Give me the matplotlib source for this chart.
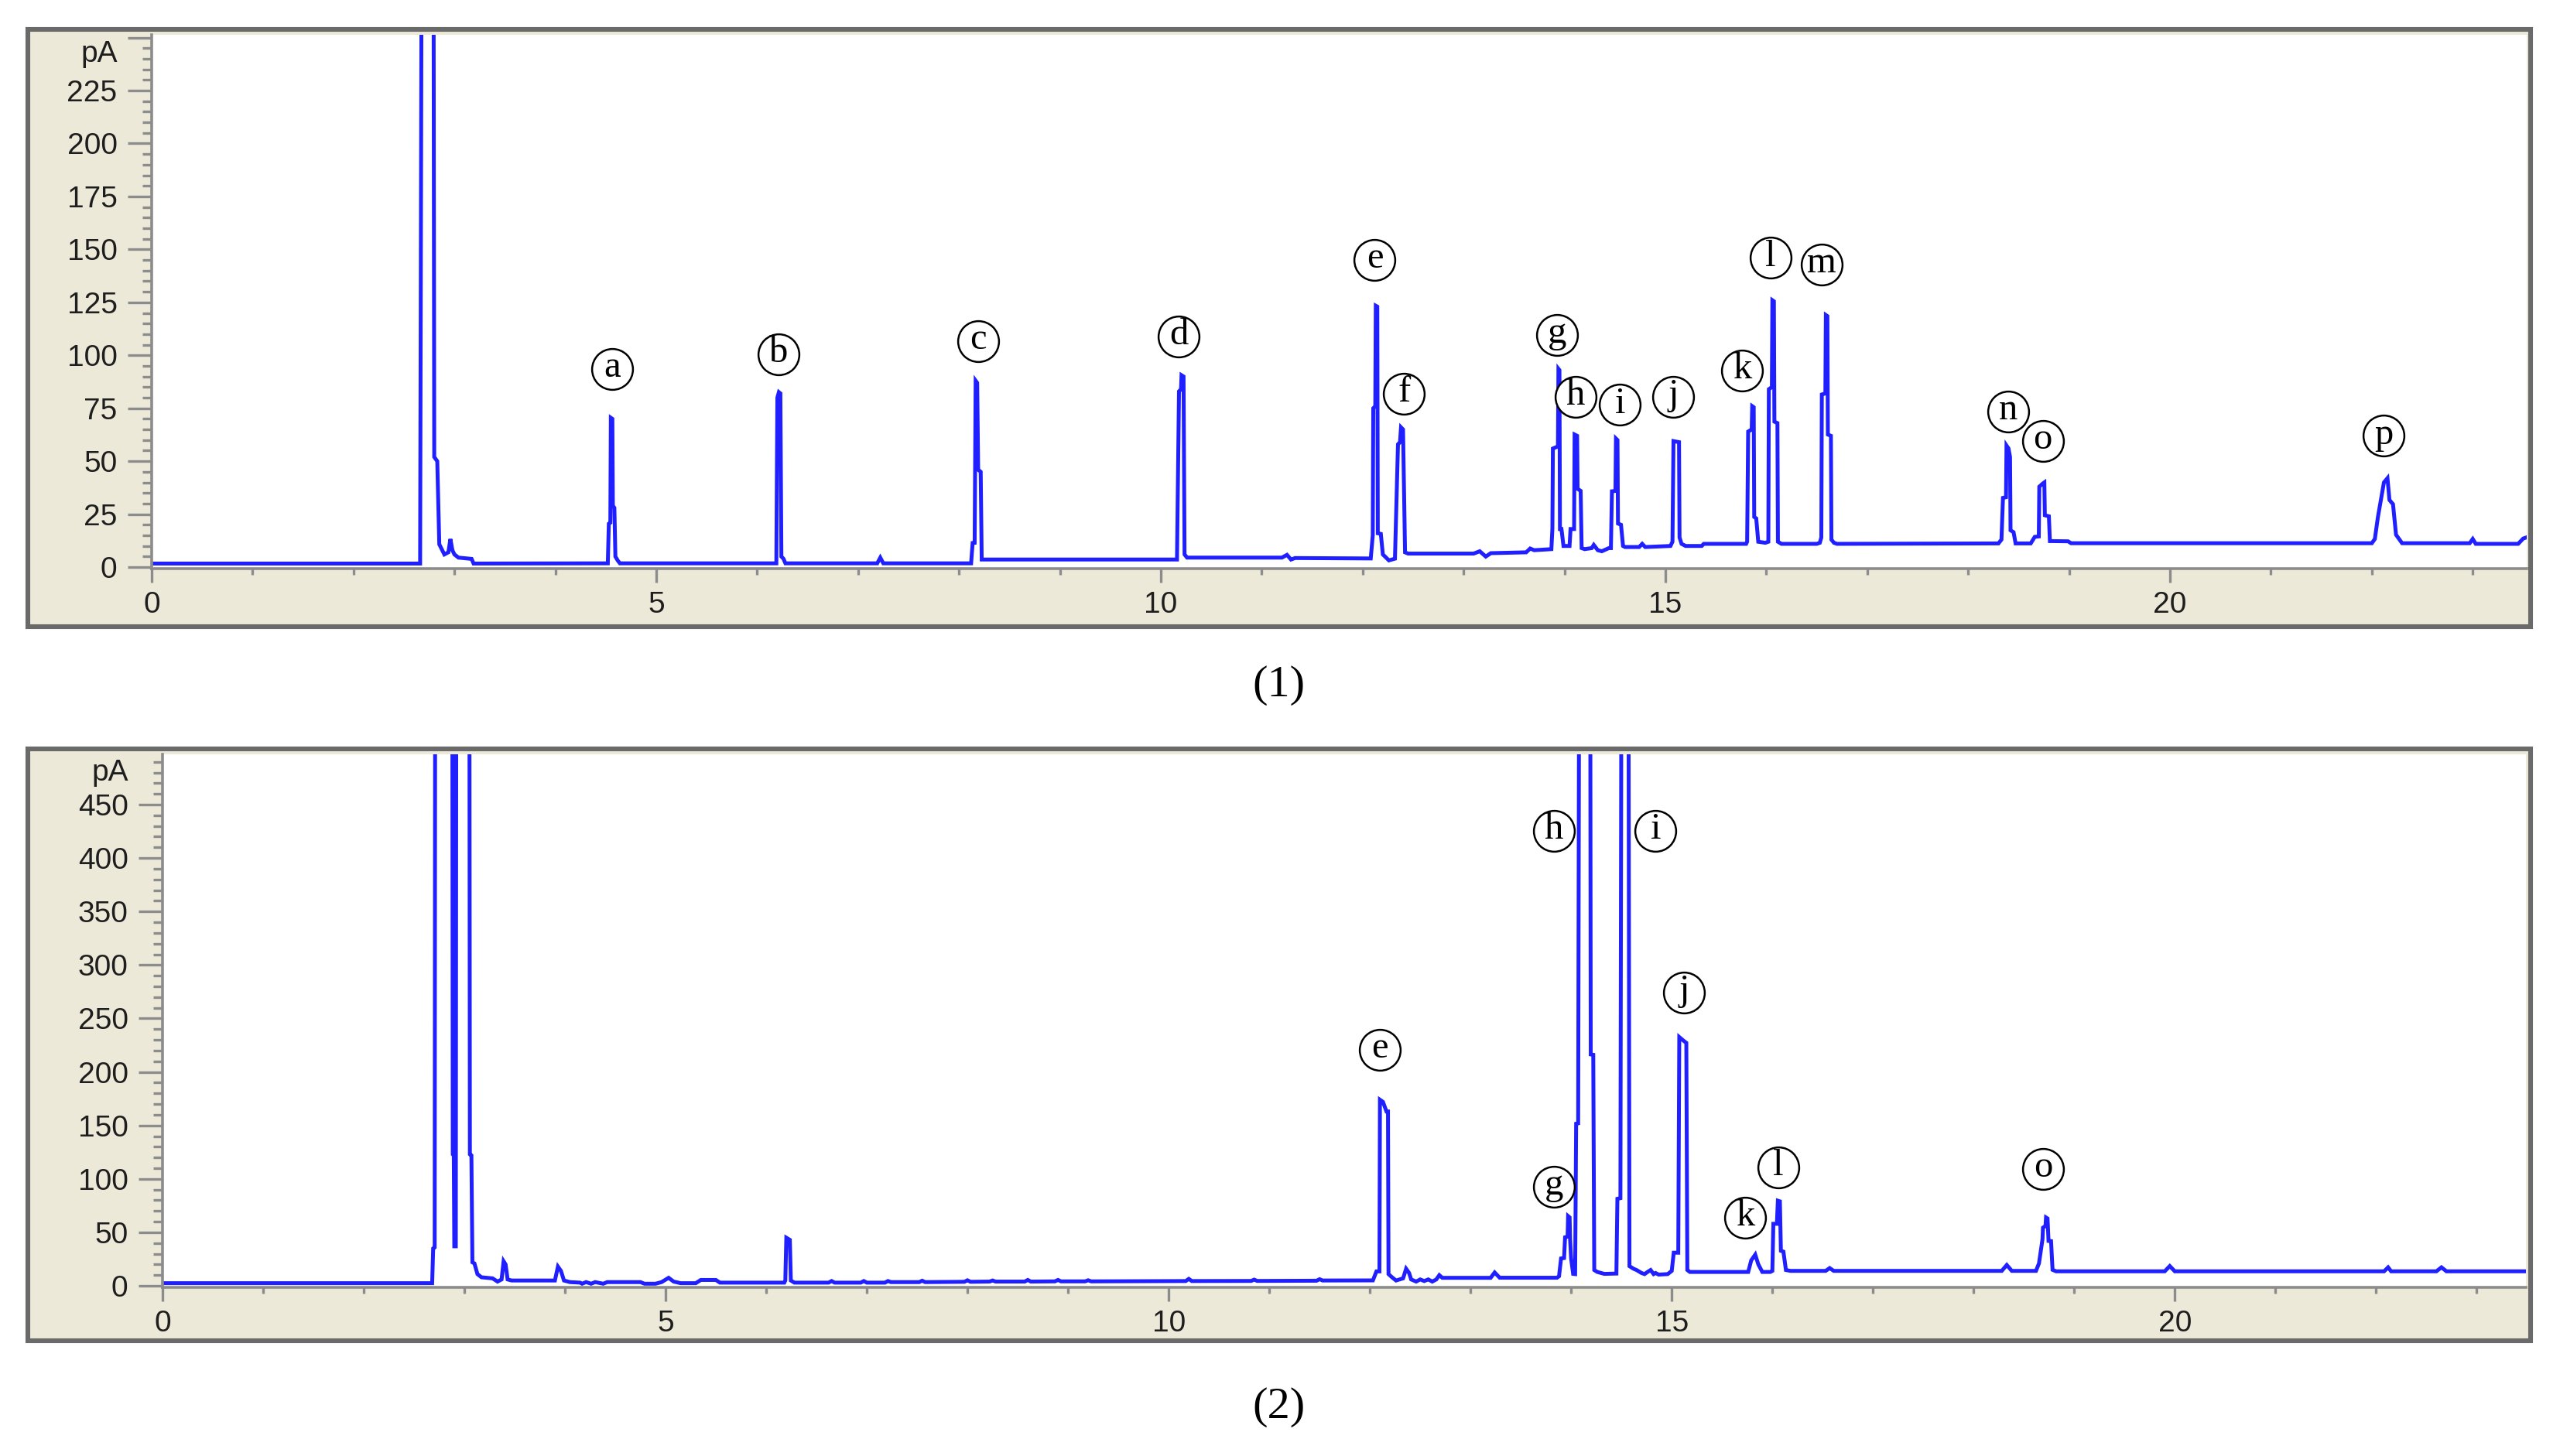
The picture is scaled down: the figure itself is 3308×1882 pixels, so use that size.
import matplotlib.pyplot as plt
from matplotlib.patches import Rectangle
from matplotlib.ticker import MultipleLocator

# chromatogram (1): retention time (min) / signal (pA), vertices
t1 = [0.00, 2.66, 2.68, 2.79, 2.80, 2.83, 2.85, 2.90, 2.94, 2.96, 2.98, 3.00, 3.04, 3.17, 3.19,
      4.52, 4.53, 4.545, 4.55, 4.565, 4.57, 4.585, 4.595, 4.62, 4.64,
      6.19, 6.20, 6.215, 6.23, 6.24, 6.26, 6.28, 7.19, 7.22, 7.25,
      8.12, 8.135, 8.155, 8.165, 8.18, 8.19, 8.215, 8.225,
      10.16, 10.18, 10.20, 10.205, 10.225, 10.235, 10.26, 11.20, 11.25, 11.29, 11.33,
      12.08, 12.10, 12.105, 12.125, 12.13, 12.145, 12.15, 12.18, 12.20, 12.26, 12.32,
      12.35, 12.37, 12.38, 12.40, 12.42, 12.45, 13.10, 13.16, 13.22, 13.27, 13.62, 13.66, 13.70,
      13.87, 13.88, 13.885, 13.935, 13.94, 13.95, 13.955, 13.97, 13.99, 14.05, 14.06, 14.095,
      14.10, 14.125, 14.13, 14.16, 14.17, 14.20, 14.27, 14.29, 14.33, 14.37, 14.44,
      14.46, 14.47, 14.505, 14.51, 14.525, 14.53, 14.56, 14.58, 14.60, 14.74, 14.77, 14.80,
      15.05, 15.07, 15.08, 15.135, 15.14, 15.16, 15.20, 15.36, 15.38, 15.80,
      15.81, 15.82, 15.855, 15.86, 15.875, 15.88, 15.90, 15.92, 15.99,
      16.02, 16.025, 16.055, 16.06, 16.075, 16.08, 16.11, 16.115, 16.15, 16.50,
      16.53, 16.545, 16.55, 16.585, 16.59, 16.605, 16.61, 16.64, 16.645, 16.67, 16.70,
      18.30, 18.33, 18.345, 18.375, 18.38, 18.40, 18.415, 18.42, 18.45, 18.47,
      18.62, 18.66, 18.70, 18.705, 18.74, 18.755, 18.76, 18.80, 18.81, 18.99, 19.02,
      22.00, 22.03, 22.06, 22.09, 22.12, 22.155, 22.175, 22.21, 22.24, 22.30,
      22.97, 23.00, 23.03, 23.45, 23.50, 23.53]
pa1 = [1.7, 1.7, 400, 400, 52, 50, 10.8, 6, 7, 13.3, 8, 6, 4.5, 3.9, 1.7,
       1.8, 20.5, 21, 70.5, 70, 29, 28, 5, 3, 1.8,
       1.8, 80, 82.6, 82, 5, 4, 1.8, 1.8, 4.5, 1.8,
       1.8, 11.4, 11.5, 88, 87, 46, 45, 3.6,
       3.6, 83, 84, 90.6, 90, 6, 4.5, 4.5, 5.8, 3.6, 4.3,
       4.1, 15, 75, 76, 123.4, 123, 16, 15.7, 6, 3.2, 4,
       58, 59, 66, 65, 7, 6.4, 6.4, 7.5, 5, 6.6, 7, 8.8, 8,
       8.5, 18, 56, 57, 93.6, 93, 18, 18, 10, 10, 18, 18,
       62.6, 62, 37, 36, 9, 8.5, 9, 10.5, 8, 7.5, 9,
       9, 35.8, 36, 60.7, 60, 20.6, 20, 10, 9.5, 9.5, 11, 9.5,
       10, 12, 59.5, 59, 14, 11, 10, 10, 11, 11,
       12, 64, 65, 76, 75.5, 23.7, 23, 12, 11.5,
       12, 84, 85, 126, 125.5, 68.7, 68, 12, 11, 11,
       11.5, 14, 81.5, 82, 119, 118.5, 62.6, 62, 13, 11.5, 11,
       11.2, 13, 32.7, 33, 57.4, 56, 52, 17.4, 16.5, 11.2,
       11.2, 14.3, 14.5, 38, 39.5, 40, 24.5, 24, 12.3, 12.2, 11.3,
       11.3, 13.3, 23.5, 31.7, 40, 42, 31.7, 29.7, 15.3, 11.3,
       11.3, 13.3, 11.0, 11.0, 13.5, 14]

# chromatogram (2)
t2 = [0.00, 2.68, 2.69, 2.705, 2.71, 2.88, 2.885, 2.895, 2.90, 2.915, 2.92, 3.05, 3.055, 3.07,
      3.08, 3.10, 3.13, 3.17, 3.28, 3.33, 3.37, 3.39, 3.41, 3.43, 3.47, 3.90, 3.93, 3.96, 3.99,
      4.05, 4.15, 4.17, 4.21, 4.26, 4.30, 4.38, 4.42, 4.75, 4.79, 4.90, 4.96, 5.03, 5.08, 5.15,
      5.30, 5.35, 5.50, 5.54, 6.18, 6.19, 6.20, 6.235, 6.245, 6.28, 6.62, 6.65, 6.68, 6.94,
      6.97, 7.00, 7.18, 7.21, 7.24, 7.52, 7.55, 7.58, 7.97, 8.00, 8.03, 8.22, 8.25, 8.28,
      8.57, 8.60, 8.63, 8.87, 8.90, 8.93, 9.17, 9.20, 9.23, 10.17, 10.20, 10.23, 10.82, 10.85,
      10.88, 11.47, 11.50, 11.53,
      12.03, 12.065, 12.095, 12.10, 12.13, 12.165, 12.18, 12.185, 12.22, 12.26, 12.33, 12.36,
      12.39, 12.41, 12.46, 12.50, 12.54, 12.58, 12.62, 12.66, 12.69, 12.72, 13.20, 13.24, 13.29,
      13.86, 13.88, 13.90, 13.93, 13.94, 13.965, 13.97, 13.985, 13.99, 14.00, 14.02, 14.04,
      14.05, 14.07, 14.08, 14.19, 14.195, 14.22, 14.23, 14.26, 14.33, 14.45,
      14.46, 14.49, 14.50, 14.57, 14.58, 14.62, 14.65, 14.70, 14.73, 14.76, 14.79, 14.82, 14.84,
      14.87, 14.96, 15.00, 15.02, 15.065, 15.075, 15.12, 15.145, 15.155, 15.18, 15.76,
      15.79, 15.83, 15.86, 15.90, 15.98, 16.00, 16.01, 16.045, 16.055, 16.075, 16.085, 16.11,
      16.135, 16.18, 16.53, 16.57, 16.61, 18.28, 18.33, 18.38, 18.62,
      18.65, 18.685, 18.69, 18.715, 18.72, 18.735, 18.745, 18.77, 18.785, 18.82,
      19.90, 19.95, 20.00, 22.08, 22.12, 22.15, 22.60, 22.65, 22.70, 23.49]
pa2 = [2.5, 2.5, 35, 36, 600, 600, 123, 122, 37, 37, 600, 600, 123, 122,
       22, 21, 11, 8, 7, 4, 6, 23, 20, 6, 5, 5, 18, 14, 5,
       3.5, 3, 2, 3.5, 2, 3.5, 2, 3.5, 3.5, 2, 2, 3.5, 7.5, 4, 2.5,
       2.5, 5.5, 5.5, 3, 3, 5, 45, 43, 5, 3, 3, 4.5, 3, 3,
       4.5, 3, 3, 4.5, 3.5, 3.5, 4.8, 3.5, 3.8, 5.2, 3.8, 4, 5, 4,
       4, 5.5, 4, 4.2, 5.5, 4.2, 4.2, 5.2, 4.2, 4.5, 6.5, 4.5, 4.6, 5.8,
       4.6, 4.8, 6.2, 5,
       5.1, 13.5, 13.5, 174, 172, 163, 163, 11, 8, 5, 7, 16,
       12, 6, 4, 6, 4.5, 6, 4, 6, 10, 7.5, 7.5, 12.5, 7.6,
       7.6, 9, 25.6, 26, 45.4, 46, 65.2, 64, 43.6, 25.6, 11.2, 11,
       151.6, 152, 600, 600, 216.4, 216, 14.8, 13, 11.2, 11.5,
       81.4, 82, 600, 600, 18.4, 16, 14.8, 12, 11, 13, 14.8, 11, 12,
       10.5, 11, 14, 31, 31, 232.6, 229, 227.2, 14.8, 13, 13,
       23.8, 29.2, 20.2, 13, 13, 14, 58, 58, 79.6, 79, 32.8, 32,
       14.8, 14, 14, 16.6, 14, 14, 19.5, 14, 14,
       21, 43.6, 54.4, 56, 63.9, 63, 42, 41.8, 15, 13.6,
       13.6, 18.5, 13.6, 13.6, 17.3, 13.6, 13.6, 17.3, 13.6, 13.6]

# peak labels (time, pA)
lab1 = list('abcdefghijklmnop')
lab1_t = [4.56, 6.21, 8.19, 10.18, 12.12, 12.41, 13.93, 14.11, 14.55, 15.08, 15.76, 16.04,
          16.55, 18.40, 18.74, 22.12]
lab1_y = [93.6, 100.5, 106.7, 109, 145.2, 82, 109.7, 80.5, 76.6, 80.5, 92.8, 146, 142.9,
          73.5, 59.7, 62]
lab2 = list('eghijklo')
lab2_t = [12.10, 13.83, 13.83, 14.84, 15.12, 15.73, 16.06, 18.69]
lab2_y = [221, 92.8, 425.6, 425.6, 274.5, 63.8, 111, 109.6]

W, H = 3308, 1882
BEIGE = '#ece9d8'
GRID = '#8c8c8c'
BLUE = '#1f1fff'
TXT = '#1e1e1e'

fig = plt.figure(figsize=(W / 200, H / 200), dpi=200, facecolor='white')


def px(x0, y0, x1, y1):
    return [x0 / W, 1 - y1 / H, (x1 - x0) / W, (y1 - y0) / H]


def panel(frame, box, t, pa, xmax, ylim, ytop, ymajor, yminor, unit_y,
          labs, lt, ly, caption, cap_y):
    fx, fy, fw, fh = px(*frame)
    fig.add_artist(Rectangle((fx, fy), fw, fh, transform=fig.transFigure,
                             facecolor=BEIGE, edgecolor='#6a6a6a', lw=2.2, zorder=-1))
    ax = fig.add_axes(px(*box))
    ax.set_facecolor('white')
    ax.plot(t, pa, color=BLUE, lw=1.8, solid_joinstyle='miter')
    ax.set_xlim(0, xmax)
    ax.set_ylim(*ylim)
    for s in ('top', 'right'):
        ax.spines[s].set_visible(False)
    for s in ('left', 'bottom'):
        ax.spines[s].set_color(GRID)
        ax.spines[s].set_linewidth(1.3)
    ax.xaxis.set_major_locator(MultipleLocator(5))
    ax.xaxis.set_minor_locator(MultipleLocator(1))
    yt = list(range(0, ytop + 1, ymajor))
    ax.set_yticks(yt)
    ax.set_yticklabels([str(v) if v < ytop else '' for v in yt])
    ax.set_ylim(*ylim)
    ax.yaxis.set_minor_locator(MultipleLocator(yminor))
    ax.tick_params(axis='y', which='major', length=11, width=1.2, color=GRID, pad=5,
                   labelsize=14, labelcolor=TXT)
    ax.tick_params(axis='y', which='minor', length=4.5, width=1.2, color=GRID)
    ax.tick_params(axis='x', which='major', length=6.5, width=1.2, color=GRID, pad=4,
                   labelsize=14, labelcolor=TXT)
    ax.tick_params(axis='x', which='minor', length=3, width=1.2, color=GRID)
    for lab in ax.get_xticklabels() + ax.get_yticklabels():
        lab.set_family('Liberation Sans')
    ax.annotate('pA', xy=(0, unit_y), xycoords=('axes fraction', 'data'),
                xytext=(-16, 0), textcoords='offset points', ha='right', va='center',
                fontsize=14, color=TXT, family='Liberation Sans')
    ax.plot(lt, ly, 'o', ms=19, mfc='white', mec='black', mew=0.9, zorder=3)
    for s, x, y in zip(labs, lt, ly):
        ax.annotate(s, xy=(x, y), xytext=(0, -3.7), textcoords='offset points',
                    ha='center', va='baseline', fontsize=17.5, family='Liberation Serif',
                    zorder=4)
    fig.text(0.4994, cap_y, caption, ha='center', va='center', fontsize=21,
             family='Liberation Serif')
    return ax


panel((36, 38, 3270, 810), (196, 45, 3265, 735), t1, pa1, 23.535, (-0.7, 251.3), 250,
      25, 5, 242, lab1, lab1_t, lab1_y, '(1)', 0.529)
panel((36, 968, 3270, 1733), (210, 975, 3264, 1664), t2, pa2, 23.49, (-1.4, 497), 500,
      50, 10, 480, lab2, lab2_t, lab2_y, '(2)', 0.0336)

fig.savefig('out.png', dpi=200, facecolor='white')
